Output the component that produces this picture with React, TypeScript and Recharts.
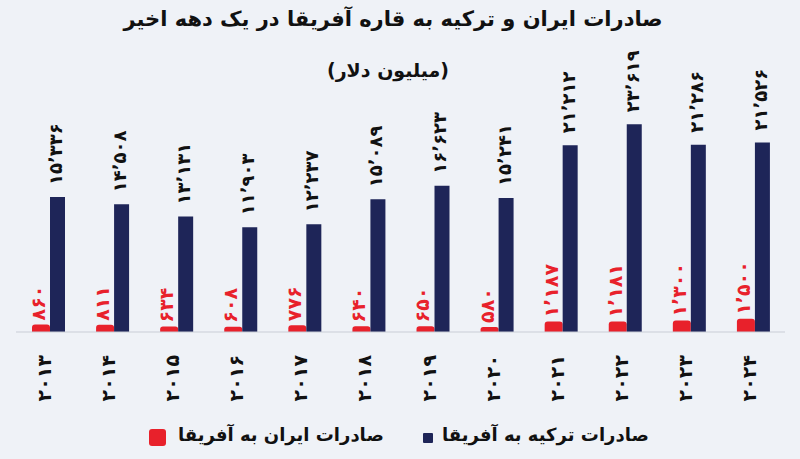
import { Bar, BarChart, LabelList, XAxis, YAxis } from 'recharts';

const YEARS = ['2013', '2014', '2015', '2016', '2017', '2018', '2019', '2020', '2021', '2022', '2023', '2024'];
const IRAN = [860, 811, 634, 608, 776, 640, 650, 580, 1187, 1181, 1300, 1500];
const TURKEY = [15336, 14508, 13131, 11903, 12237, 15089, 16623, 15241, 21212, 23619, 21286, 21526];

const TITLE = 'صادرات ایران و ترکیه به قاره آفریقا در یک دهه اخیر';
const SUBTITLE = '(میلیون دلار)';
const IRAN_NAME = 'صادرات ایران به آفریقا';
const TURKEY_NAME = 'صادرات ترکیه به آفریقا';

const RED = '#e8212b';
const NAVY = '#1e2558';
const BG = '#eff2f7';
const FONT = '"DejaVu Sans", sans-serif';

const rows = YEARS.map((year, i) => ({ year, iran: IRAN[i], turkey: TURKEY[i] }));

function fa(value: number | string, sep = true) {
  const digits = '۰۱۲۳۴۵۶۷۸۹';
  const str = typeof value === 'number' && sep ? value.toLocaleString('en-US') : String(value);
  return str.replace(/\d/g, (d) => digits[Number(d)]).replace(/,/g, '٬');
}

function YearTick(props: any) {
  const { x, y, payload } = props;
  const tx = x - 4;
  const ty = y + 15;
  return (
    <text
      x={tx}
      y={ty}
      transform={`rotate(-90 ${tx} ${ty})`}
      textAnchor="end"
      dominantBaseline="central"
      fontFamily={FONT}
      fontWeight="bold"
      fontSize={19}
      fill="#111"
    >
      {fa(payload.value, false)}
    </text>
  );
}

function makeLabel(color: string, gap: number, dx: number, size: number) {
  return (props: any) => {
    const { x, y, width, value } = props;
    const tx = x + width / 2 + dx;
    const ty = y - gap;
    return (
      <text
        x={tx}
        y={ty}
        transform={`rotate(-90 ${tx} ${ty})`}
        textAnchor="start"
        dominantBaseline="central"
        fontFamily={FONT}
        fontWeight="bold"
        fontSize={size}
        fill={color}
      >
        {fa(value)}
      </text>
    );
  };
}

export default function App() {
  return (
    <div style={{ position: 'relative', width: 800, height: 459, background: BG, overflow: 'hidden', fontFamily: FONT }}>
      <style>{'body{margin:0}'}</style>
      <div
        style={{
          position: 'absolute',
          top: 7,
          left: 0,
          width: 786,
          textAlign: 'center',
          direction: 'rtl',
          fontWeight: 'bold',
          fontSize: 21,
          color: '#111',
        }}
      >
        {TITLE}
      </div>
      <div
        style={{
          position: 'absolute',
          top: 59,
          left: 0,
          width: 776,
          textAlign: 'center',
          direction: 'rtl',
          fontWeight: 'bold',
          fontSize: 19,
          color: '#111',
        }}
      >
        {SUBTITLE}
      </div>
      <div style={{ position: 'absolute', top: 0, left: 0 }}>
        <BarChart
          width={800}
          height={459}
          data={rows}
          margin={{ top: 68, right: 15, left: 16, bottom: 0 }}
          barGap={0}
        >
          <XAxis
            dataKey="year"
            height={127}
            tickLine={false}
            axisLine={{ stroke: '#c9cdd6' }}
            tick={<YearTick />}
            interval={0}
          />
          <YAxis hide domain={[0, 30000]} />
          <Bar dataKey="iran" fill={RED} barSize={18} radius={[3, 3, 0, 0]} isAnimationActive={false}>
            <LabelList dataKey="iran" content={makeLabel(RED, 4, -3, 19)} />
          </Bar>
          <Bar dataKey="turkey" fill={NAVY} barSize={15} isAnimationActive={false}>
            <LabelList dataKey="turkey" content={makeLabel('#111', 12, -2, 18)} />
          </Bar>
        </BarChart>
      </div>
      <div style={{ position: 'absolute', top: 429, left: 149, width: 17, height: 17, background: RED, borderRadius: 3 }} />
      <div
        style={{
          position: 'absolute',
          top: 424,
          left: 178,
          direction: 'rtl',
          fontWeight: 'bold',
          fontSize: 18,
          color: '#111',
          whiteSpace: 'nowrap',
        }}
      >
        {IRAN_NAME}
      </div>
      <div style={{ position: 'absolute', top: 433, left: 423, width: 10, height: 10, background: NAVY, borderRadius: 1 }} />
      <div
        style={{
          position: 'absolute',
          top: 424,
          left: 442,
          direction: 'rtl',
          fontWeight: 'bold',
          fontSize: 18,
          color: '#111',
          whiteSpace: 'nowrap',
        }}
      >
        {TURKEY_NAME}
      </div>
    </div>
  );
}
